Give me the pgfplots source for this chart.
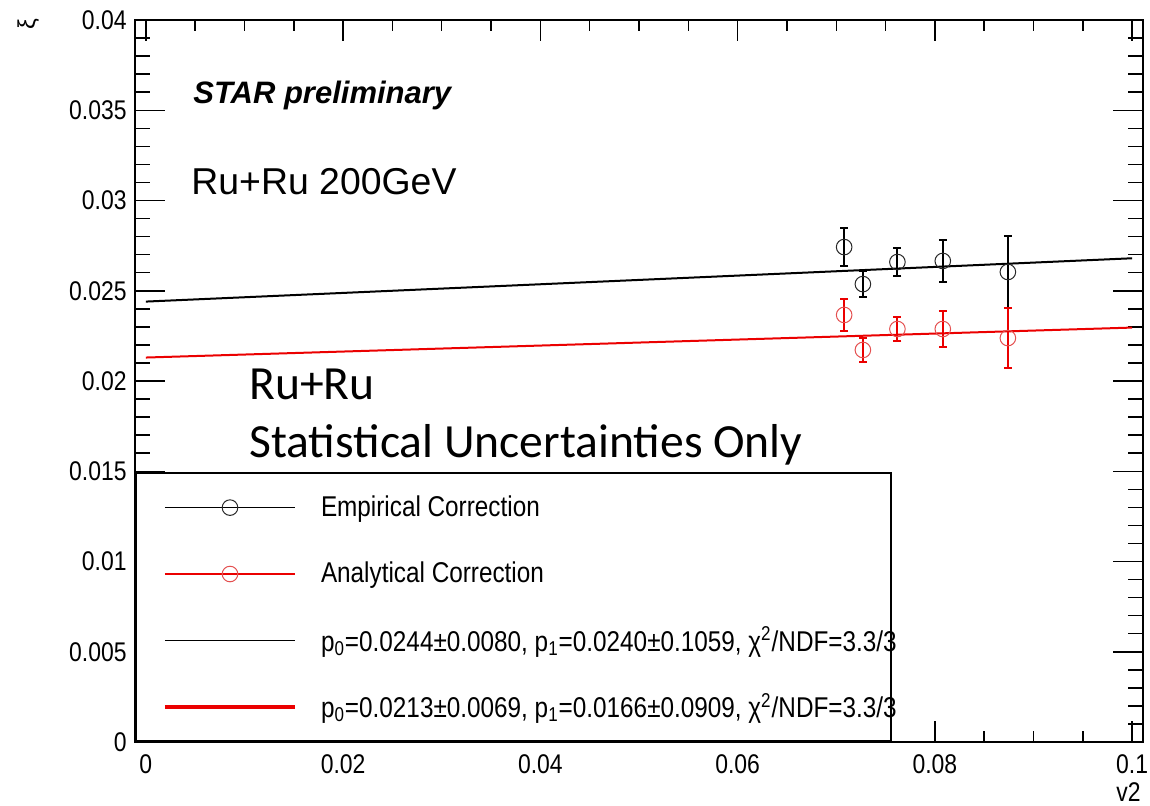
\documentclass[border=0pt]{standalone}
\usepackage{fontspec}
\setmainfont{Liberation Sans}
\newfontfamily\rootfont{Liberation Sans}[FakeStretch=0.85]
\newfontfamily\calibri{Carlito}
\usepackage{pgfplots}
\pgfplotsset{compat=1.18}
\definecolor{rootred}{RGB}{235,0,0}
\definecolor{markred}{RGB}{228,80,80}
\definecolor{markblack}{RGB}{40,40,40}
\pgfplotsset{
  legline/.style={legend image code/.code={%
    \path[draw=none,fill=none] (0pt,-16.6pt) rectangle (79.5pt,16.6pt);
    \draw[##1] (14.5pt,0pt) -- (79.5pt,0pt);}},
  leglinemark/.style={legend image code/.code={%
    \path[draw=none,fill=none] (0pt,-16.6pt) rectangle (79.5pt,16.6pt);
    \draw[##1,mark=none] (14.5pt,0pt) -- (79.5pt,0pt);
    \draw[##1] plot coordinates {(47pt,0pt)};}},
}
\begin{document}
\begin{tikzpicture}
\useasboundingbox (-67.5pt,-31.5pt) rectangle (507.5pt,371pt);
\begin{axis}[
  scale only axis, width=504pt, height=361pt,
  xmin=-0.0011, xmax=0.1011, ymin=0, ymax=0.04,
  axis line style={line width=1pt},
  tick align=inside, tick pos=both,
  xtick={0,0.02,0.04,0.06,0.08,0.1},
  minor xtick={0.005,0.01,0.015,0.025,0.03,0.035,0.045,0.05,0.055,0.065,0.07,0.075,0.085,0.09,0.095},
  ytick={0,0.005,0.01,0.015,0.02,0.025,0.03,0.035,0.04},
  minor ytick={0.001,0.002,0.003,0.004,0.006,0.007,0.008,0.009,0.011,0.012,0.013,0.014,0.016,0.017,0.018,0.019,0.021,0.022,0.023,0.024,0.026,0.027,0.028,0.029,0.031,0.032,0.033,0.034,0.036,0.037,0.038,0.039},
  xtick style={line width=0.75pt, black, /pgfplots/major tick length=10.5pt, /pgfplots/minor tick length=5.5pt},
  ytick style={line width=0.75pt, black, /pgfplots/major tick length=15pt, /pgfplots/minor tick length=7.5pt},
  scaled ticks=false,
  /pgf/number format/assume math mode=true,
  /pgf/number format/fixed, /pgf/number format/precision=3,
  ticklabel style={font=\rootfont\fontsize{13.5}{16}\selectfont},
  xticklabel style={inner sep=0pt}, xticklabel shift=6pt,
  yticklabel style={inner sep=0pt}, yticklabel shift=4pt,
  xlabel={v2},
  xlabel style={at={(axis description cs:0.998,-0.056)}, anchor=north east, inner sep=0pt, font=\rootfont\fontsize{13.5}{16}\selectfont},
  ylabel={ξ},
  ylabel style={at={(axis description cs:-0.106,0.9945)}, anchor=center, inner sep=0pt, font=\fontsize{12}{14}\selectfont},
  legend style={at={(0,0)}, anchor=south west, draw=black, line width=1pt, fill=white,
    inner xsep=0pt, inner ysep=0.5pt, row sep=0pt, column sep=12pt,
    nodes={inner sep=0pt}, font=\rootfont\fontsize{14.3}{16}\selectfont},
  legend cell align=left,
]
% fit lines
\addplot[black, line width=1pt, forget plot] coordinates {(0,0.0244) (0.1,0.0268)};
\addplot[rootred, line width=1pt, forget plot] coordinates {(0,0.0213) (0.1,0.02296)};
% data
\addplot[only marks, mark=o, mark size=3.9pt, mark options={markblack, line width=0.5pt}, forget plot,
  error bars/.cd, y dir=both, y explicit,
  error bar style={black, line width=1pt},
  error mark options={rotate=90, black, mark size=2pt, line width=1pt}]
  coordinates {
  (0.0708,0.02742) +- (0,0.00105)
  (0.0727,0.02537) +- (0,0.00072)
  (0.0762,0.02659) +- (0,0.00080)
  (0.0808,0.02665) +- (0,0.00114)
  (0.0874,0.02604) +- (0,0.00200)
  };
\addplot[only marks, mark=o, mark size=3.9pt, mark options={markred, line width=0.5pt}, forget plot,
  error bars/.cd, y dir=both, y explicit,
  error bar style={rootred, line width=1pt},
  error mark options={rotate=90, rootred, mark size=2pt, line width=1pt}]
  coordinates {
  (0.0708,0.02366) +- (0,0.00089)
  (0.0727,0.02172) +- (0,0.00066)
  (0.0762,0.02288) +- (0,0.00069)
  (0.0808,0.02288) +- (0,0.00100)
  (0.0874,0.02238) +- (0,0.00166)
  };
% legend
\addlegendimage{leglinemark, black, line width=0.75pt, mark=o, mark size=3.9pt, mark options={markblack, line width=0.5pt}}
\addlegendentry{\makebox[285pt][l]{Empirical Correction}}
\addlegendimage{leglinemark, rootred, line width=0.75pt, mark=o, mark size=3.9pt, mark options={markred, line width=0.5pt}}
\addlegendentry{\makebox[285pt][l]{Analytical Correction}}
\addlegendimage{legline, black, line width=0.75pt}
\addlegendentry{\makebox[285pt][l]{p\textsubscript{0}=0.0244±0.0080, p\textsubscript{1}=0.0240±0.1059, χ\textsuperscript{2}/NDF=3.3/3}}
\addlegendimage{legline, rootred, line width=2pt}
\addlegendentry{\makebox[285pt][l]{p\textsubscript{0}=0.0213±0.0069, p\textsubscript{1}=0.0166±0.0909, χ\textsuperscript{2}/NDF=3.3/3}}
% texts
\node[anchor=base west, inner sep=0pt, font=\bfseries\itshape\fontsize{15.5}{18}\selectfont] at (axis description cs:0.0575,0.885) {STAR preliminary};
\node[anchor=base west, inner sep=0pt, font=\fontsize{18.7}{22}\selectfont] at (axis description cs:0.0556,0.759) {Ru+Ru 200GeV};
\node[anchor=base west, inner sep=0pt, font=\calibri\fontsize{23.8}{28}\selectfont] at (axis description cs:0.1131,0.4737) {Ru+Ru};
\node[anchor=base west, inner sep=0pt, font=\calibri\fontsize{23.8}{28}\selectfont] at (axis description cs:0.1131,0.3934) {Statistical Uncertainties Only};
\end{axis}
\end{tikzpicture}
\end{document}
